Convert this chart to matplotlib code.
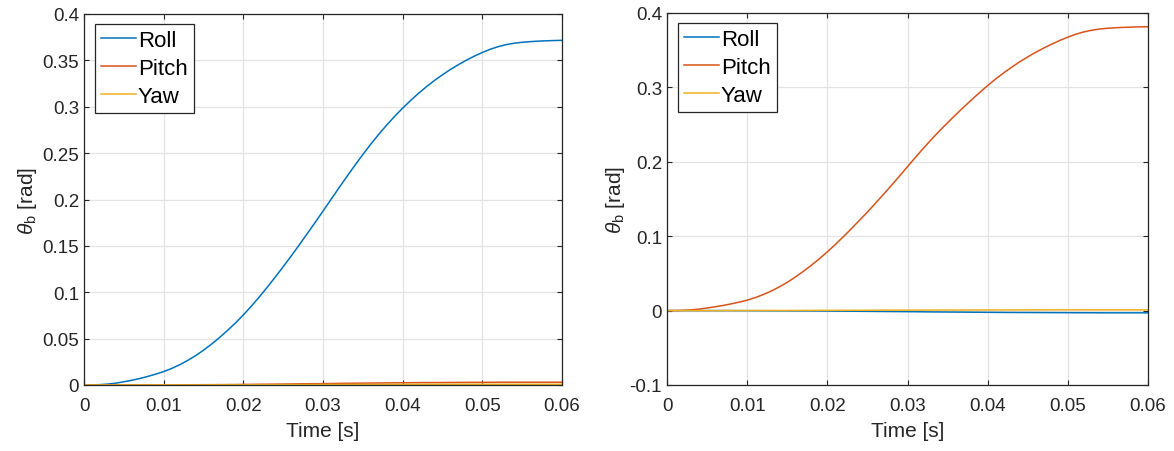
import matplotlib
matplotlib.use("Agg")
import matplotlib.pyplot as plt

plt.rcParams['font.family'] = ['Liberation Sans', 'DejaVu Sans']
plt.rcParams['mathtext.fontset'] = 'custom'
plt.rcParams['mathtext.rm'] = 'Liberation Sans'
plt.rcParams['mathtext.it'] = 'Liberation Sans:italic'
plt.rcParams['mathtext.sf'] = 'Liberation Sans'

# ---- data ----
# fine time grid (ms steps) for the large manoeuvre curves
time_fine = [i / 1000 for i in range(61)]

left_roll = [0.0000, 0.0001, 0.0004, 0.0010, 0.0020, 0.0035, 0.0051, 0.0070, 0.0092, 0.0117,
             0.0145, 0.0178, 0.0218, 0.0264, 0.0316, 0.0375, 0.0440, 0.0511, 0.0587, 0.0668,
             0.0755, 0.0849, 0.0949, 0.1054, 0.1163, 0.1275, 0.1390, 0.1508, 0.1629, 0.1751,
             0.1875, 0.2000, 0.2125, 0.2248, 0.2368, 0.2485, 0.2597, 0.2703, 0.2803, 0.2897,
             0.2985, 0.3068, 0.3145, 0.3217, 0.3284, 0.3345, 0.3402, 0.3454, 0.3502, 0.3546,
             0.3585, 0.3620, 0.3648, 0.3670, 0.3685, 0.3695, 0.3702, 0.3707, 0.3711, 0.3714,
             0.3716]

right_pitch = [0.0000, 0.0001, 0.0004, 0.0010, 0.0020, 0.0035, 0.0051, 0.0069, 0.0090, 0.0114,
               0.0140, 0.0174, 0.0215, 0.0263, 0.0318, 0.0380, 0.0450, 0.0527, 0.0609, 0.0696,
               0.0790, 0.0889, 0.0993, 0.1101, 0.1212, 0.1325, 0.1442, 0.1562, 0.1684, 0.1808,
               0.1935, 0.2061, 0.2184, 0.2303, 0.2417, 0.2525, 0.2631, 0.2734, 0.2834, 0.2931,
               0.3025, 0.3113, 0.3195, 0.3272, 0.3344, 0.3410, 0.3472, 0.3529, 0.3582, 0.3631,
               0.3675, 0.3715, 0.3746, 0.3769, 0.3785, 0.3795, 0.3802, 0.3807, 0.3811, 0.3814,
               0.3815]

# coarse time grid for the nearly flat cross-axis curves
time_coarse = [0.0, 0.0025, 0.005, 0.0075, 0.01, 0.0125, 0.015, 0.0175, 0.02, 0.0225,
               0.025, 0.0275, 0.03, 0.0325, 0.035, 0.0375, 0.04, 0.0425, 0.045, 0.0475,
               0.05, 0.0525, 0.055, 0.0575, 0.06]

left_pitch = [0.0, 0.0, 0.0, 0.0001, 0.0001, 0.0002, 0.0003, 0.0004, 0.0006, 0.0008,
              0.0010, 0.0013, 0.0015, 0.0018, 0.0020, 0.0022, 0.0024, 0.0026, 0.0027, 0.0028,
              0.0029, 0.0030, 0.0030, 0.0030, 0.0030]
left_yaw = [0.0, 0.0, 0.0, 0.0, 0.0001, 0.0001, 0.0001, 0.0002, 0.0002, 0.0003,
            0.0003, 0.0004, 0.0005, 0.0005, 0.0006, 0.0006, 0.0007, 0.0007, 0.0008, 0.0008,
            0.0008, 0.0008, 0.0008, 0.0008, 0.0008]

right_roll = [0.0, 0.0, 0.0, 0.0, -0.0001, -0.0002, -0.0003, -0.0004, -0.0006, -0.0008,
              -0.0010, -0.0012, -0.0014, -0.0017, -0.0019, -0.0021, -0.0023, -0.0025, -0.0026, -0.0027,
              -0.0028, -0.0029, -0.0030, -0.0030, -0.0030]
right_yaw = [0.0, 0.0, 0.0, 0.0001, 0.0001, 0.0002, 0.0002, 0.0003, 0.0004, 0.0004,
             0.0005, 0.0006, 0.0006, 0.0007, 0.0008, 0.0008, 0.0009, 0.0009, 0.0010, 0.0010,
             0.0010, 0.0010, 0.0010, 0.0010, 0.0010]

series_names = ['Roll', 'Pitch', 'Yaw']
colors = ['#0072BD', '#D95319', '#EDB120']

x_ticks = [0, 0.01, 0.02, 0.03, 0.04, 0.05, 0.06]
x_ticklabels = ['0', '0.01', '0.02', '0.03', '0.04', '0.05', '0.06']
left_yticks = [0, 0.05, 0.1, 0.15, 0.2, 0.25, 0.3, 0.35, 0.4]
left_yticklabels = ['0', '0.05', '0.1', '0.15', '0.2', '0.25', '0.3', '0.35', '0.4']
right_yticks = [-0.1, 0, 0.1, 0.2, 0.3, 0.4]
right_yticklabels = ['-0.1', '0', '0.1', '0.2', '0.3', '0.4']

xlabel = 'Time [s]'
ylabel = r'$\theta_{\mathrm{b}}$ [rad]'

# ---- figure ----
fig = plt.figure(figsize=(11.74, 4.52), dpi=100)
ax1 = fig.add_axes([84 / 1174, 66 / 452, 478 / 1174, 371 / 452])
ax2 = fig.add_axes([667 / 1174, 66 / 452, 481 / 1174, 372 / 452])

axcol = '#262626'


def style(ax, yticks, yticklabels, ylim):
    ax.set_xlim(0, 0.06)
    ax.set_ylim(*ylim)
    ax.set_xticks(x_ticks)
    ax.set_xticklabels(x_ticklabels)
    ax.set_yticks(yticks)
    ax.set_yticklabels(yticklabels)
    ax.grid(True, color='#E3E3E3', linewidth=0.9)
    ax.set_axisbelow(True)
    ax.tick_params(direction='in', length=3.5, width=0.8, colors=axcol,
                   labelsize=13.5, top=True, right=True)
    ax.tick_params(axis='x', pad=9)
    ax.tick_params(axis='y', pad=3.6)
    for sp in ax.spines.values():
        sp.set_color(axcol)
        sp.set_linewidth(0.9)
    ax.set_xlabel(xlabel, fontsize=15, color=axcol, labelpad=4.5)
    ax.set_ylabel(ylabel, fontsize=15, color=axcol, labelpad=2)


panels = [
    (ax1, [(time_fine, left_roll), (time_coarse, left_pitch), (time_coarse, left_yaw)],
     left_yticks, left_yticklabels, (0, 0.4)),
    (ax2, [(time_coarse, right_roll), (time_fine, right_pitch), (time_coarse, right_yaw)],
     right_yticks, right_yticklabels, (-0.1, 0.4)),
]

for ax, series, yt, ytl, yl in panels:
    for name, (t, y), c in zip(series_names, series, colors):
        ax.plot(t, y, color=c, linewidth=1.1, label=name)
    style(ax, yt, ytl, yl)
    leg = ax.legend(loc='upper left', bbox_to_anchor=(0.023, 0.973), borderaxespad=0,
                    fontsize=16, handlelength=1.55, handletextpad=0.1,
                    labelspacing=0.3, borderpad=0.28, fancybox=False, framealpha=1)
    leg.get_frame().set_edgecolor(axcol)
    leg.get_frame().set_linewidth(0.9)

fig.savefig('out.png', dpi=100)
